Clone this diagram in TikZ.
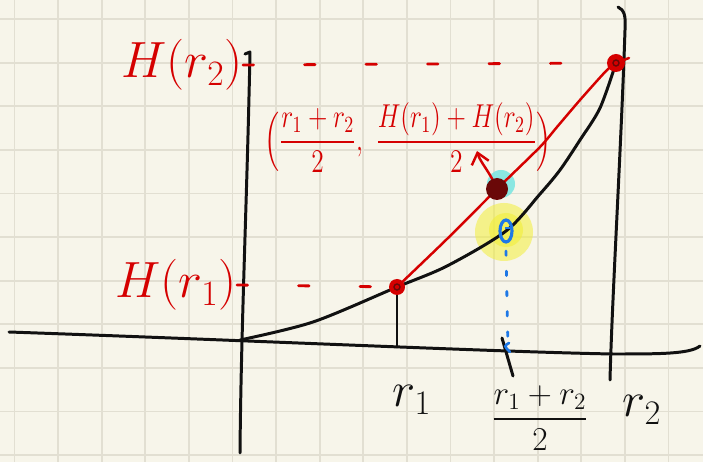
\RequirePackage{fix-cm}
\documentclass[tikz,border=0pt]{standalone}
\usepackage{amsmath}
\usepackage{tikz}
\usetikzlibrary{arrows.meta,calc}
\definecolor{paper}{HTML}{F7F5EA}
\definecolor{gridc}{HTML}{E2DFD2}
\definecolor{pen}{HTML}{D50000}
\definecolor{ink}{HTML}{111111}
\definecolor{darkpt}{HTML}{6A0808}
\definecolor{halo}{HTML}{7FE6E2}
\definecolor{hilite}{HTML}{F2EE3A}
\definecolor{bluepen}{HTML}{1E78E6}
\tikzset{
  gridline/.style={draw=gridc, line width=1.1pt},
  axisline/.style={draw=ink, line width=1.7pt, line cap=round, line join=round},
  chord/.style={draw=pen, line width=1.4pt, line cap=round, line join=round},
  hdash/.style={draw=pen, line width=1.6pt, line cap=round, dash pattern=on 6pt off 29pt},
  bdots/.style={draw=bluepen, line width=1.6pt, line cap=round, dash pattern=on 2.5pt off 9pt},
  redarr/.style={-{Straight Barb[length=6pt,width=10pt]}, draw=pen, line width=1.4pt},
  hlbl/.style={text=pen, font=\fontsize{29}{31}\selectfont, inner sep=0pt},
  xlbl/.style={text=ink, font=\fontsize{28}{30}\selectfont, inner sep=0pt},
  fraclbl/.style={text=ink, font=\fontsize{19}{21}\selectfont, inner sep=0pt},
  midlbl/.style={text=pen, font=\fontsize{14.5}{16}\selectfont, inner sep=0pt},
}

\begin{document}
\begin{tikzpicture}[x=0.02cm, y=-0.02cm]
  \useasboundingbox (0,0) rectangle (703,462);
  \fill[paper] (0,0) rectangle (703,462);
  % paper grid
  \foreach \k in {0,...,15} { \draw[gridline] ({14.5+43.6*\k},0) -- ({14.5+43.6*\k},462); }
  \foreach \k in {0,...,10} { \draw[gridline] (0,{19.1+43.6*\k}) -- (703,{19.1+43.6*\k}); }

  % points
  \coordinate (o) at (240,340);
  \coordinate (pone) at (397,287);
  \coordinate (ptwo) at (616,63);
  \coordinate (pmid) at (497,189);
  \coordinate (ymid) at (506,231);
  \coordinate (xone) at (397,347);
  \coordinate (xmid) at (508,350);
  \coordinate (arrtip) at (477,151);

  % highlights
  \fill[hilite, opacity=0.55] (504,232) circle[radius=29];
  \fill[hilite, opacity=0.6] (506,230) circle[radius=17];
  \fill[halo, opacity=0.9] (501,184) circle[radius=14];

  % axes
  \draw[axisline] (9,332) .. controls (240,340) and (500,352) .. (613,354) .. controls (660,354) and (690,354) .. (700,346);
  \draw[axisline] (245,54) -- (250,52) .. controls (247,200) and (241,330) .. (240,453);
  \draw[axisline] (618,7) .. controls (624,10) and (626,15) .. (625,30) .. controls (621,150) and (612,300) .. (610,380);
  \draw[axisline] (pone) -- (xone);
  \draw[axisline] (502,338) -- (513,376);

  % curve
  \draw[axisline] plot[smooth, tension=0.5] coordinates {(o) (313,322) (pone) (447,266) (ymid) (540,194) (560,170) (580,140) (600,108) (ptwo)};

  % labels
  \node[hlbl, anchor=east] (hrtwo) at (243,65) {$H(r_2)$};
  \node[hlbl, anchor=east] (hrone) at (237,285) {$H(r_1)$};
  \node[midlbl] (midpt) at (408,138) {\scalebox{1}[1.3]{$\Bigl(\dfrac{r_1+r_2}{2},\ \dfrac{H(r_1)+H(r_2)}{2}\Bigr)$}};
  \node[xlbl] (rone) at (412,400) {$r_1$};
  \node[fraclbl] (rmid) at (540,418) {$\dfrac{r_1+r_2}{2}$};
  \node[xlbl] (rtwo) at (642,410) {$r_2$};

  % dashed levels
  \draw[hdash] (hrtwo.east) -- (ptwo);
  \draw[hdash] (hrone.east) -- (pone);
  \draw[bdots] (ymid) ++(0,20) -- (xmid);
  \draw[draw=bluepen, line width=1.5pt, line cap=round] (509,343) .. controls (504,346) .. (510,352);

  % chord
  \draw[chord] plot[smooth, tension=0.4] coordinates {(pone) (447,239) (pmid) (540,147) (557,127) (580,100) (606,71) (ptwo)};
  \draw[redarr] (pmid) .. controls (490,172) and (480,162) .. (arrtip);

  % marks
  \fill[pen] (pone) circle[radius=8];
  \draw[darkpt, line width=0.8pt] (pone) circle[radius=3];
  \fill[pen] (ptwo) circle[radius=9];
  \draw[pen, line width=1.4pt, line cap=round] (ptwo) -- ++(13,-5);
  \draw[darkpt, line width=0.8pt] (ptwo) circle[radius=3];
  \fill[darkpt] (pmid) circle[radius=11];
  \draw[bluepen, line width=1.8pt] (ymid) ellipse[x radius=6, y radius=11];
  \draw[bluepen, line width=1.4pt] (505,228) -- (511,228);
\end{tikzpicture}
\end{document}
